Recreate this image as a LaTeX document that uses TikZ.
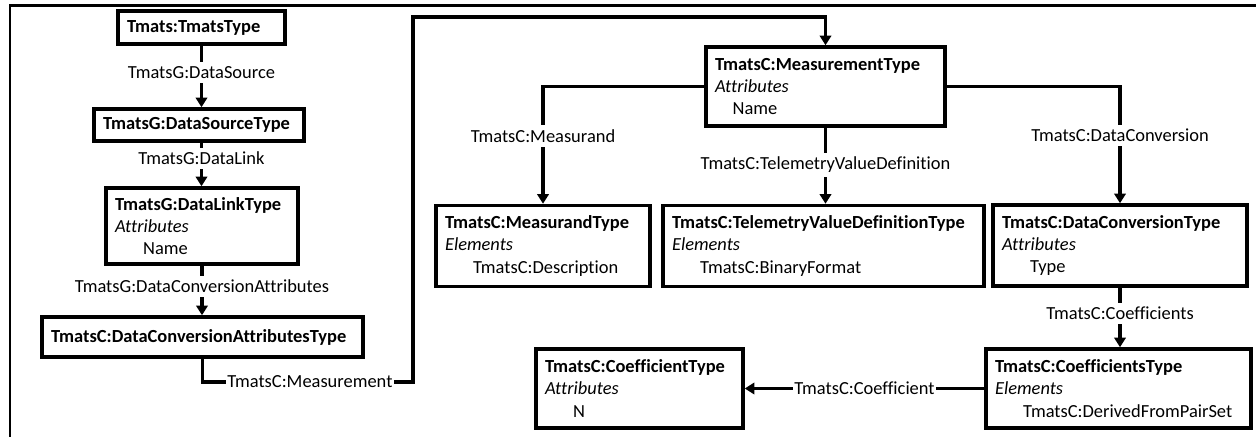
\documentclass[tikz,border=0pt]{standalone}
\usepackage{fontspec}
\setmainfont{Carlito}[Ligatures=NoCommon]
\usetikzlibrary{arrows.meta}

\tikzset{
  typebox/.style={draw, line width=2pt, inner xsep=0.18cm, inner ysep=0pt,
    align=left, font=\fontsize{10.5}{12.6}\selectfont},
  link/.style={line width=2pt, -{Triangle[length=5.5pt,width=6.5pt]}},
  linklabel/.style={fill=white, inner xsep=1pt, inner ysep=2.5pt,
    font=\fontsize{10.5}{12}\selectfont},
}
\newcommand*{\Indent}{\hspace*{16pt}}

\begin{document}
\begin{tikzpicture}[x=0.02cm,y=-0.02cm]
  \useasboundingbox (0,0) rectangle (1256,436);
  % frame
  \draw[line width=1.2pt] (10,440) -- (10,5.5) -- (1260,5.5);

  % left column
  \node[typebox, text width=2.98cm, minimum height=0.66cm] (tmats) at (201.5,27.5)
    {\textbf{Tmats:TmatsType}};
  \node[typebox, text width=3.84cm, minimum height=0.64cm] (datasource) at (199,125)
    {\textbf{TmatsG:DataSourceType}};
  \node[typebox, text width=3.48cm, minimum height=1.52cm] (datalink) at (202,226)
    {\textbf{TmatsG:DataLinkType}\\ \textit{Attributes}\\ \Indent Name};
  \node[typebox, text width=6.06cm, minimum height=0.8cm] (convattr) at (202.5,337)
    {\textbf{TmatsC:DataConversionAttributesType}};

  % measurement and children
  \node[typebox, text width=4.42cm, minimum height=1.58cm] (meas) at (825.5,86.5)
    {\textbf{TmatsC:MeasurementType}\\ \textit{Attributes}\\ \hspace*{10pt}Name};
  \node[typebox, text width=3.92cm, minimum height=1.62cm] (measurand) at (543,246)
    {\textbf{TmatsC:MeasurandType}\\ \textit{Elements}\\ \Indent TmatsC:Description};
  \node[typebox, text width=6.06cm, minimum height=1.62cm] (tvd) at (823.5,246)
    {\textbf{TmatsC:TelemetryValueDefinitionType}\\ \textit{Elements}\\ \Indent TmatsC:BinaryFormat};
  \node[typebox, text width=4.72cm, minimum height=1.62cm] (dataconv) at (1120,245.5)
    {\textbf{TmatsC:DataConversionType}\\ \textit{Attributes}\\ \Indent Type};
  \node[typebox, text width=4.94cm, minimum height=1.58cm] (coefs) at (1118.5,388.5)
    {\textbf{TmatsC:CoefficientsType}\\ \textit{Elements}\\ \Indent TmatsC:DerivedFromPairSet};
  \node[typebox, text width=3.78cm, minimum height=1.58cm] (coef) at (639.5,388.5)
    {\textbf{TmatsC:CoefficientType}\\ \textit{Attributes}\\ \Indent N};

  % connectors
  \draw[link] (tmats.south) -- node[linklabel, pos=0.43] {TmatsG:DataSource}
    (tmats.south |- datasource.north);
  \draw[link] (tmats.south |- datasource.south) -- node[linklabel, pos=0.36] {TmatsG:DataLink}
    (tmats.south |- datalink.north);
  \draw[link] (datalink.south) -- node[linklabel, pos=0.42] {TmatsG:DataConversionAttributes}
    (datalink.south |- convattr.north);

  \coordinate (mlow) at (413,382);
  \coordinate (mhigh) at (413,17);
  \draw[link] (convattr.south) |- node[linklabel, pos=0.755] {TmatsC:Measurement} (mlow)
    -- (mhigh) -| (meas.north);

  \draw[link] (meas.west) -| node[linklabel, pos=0.71] {TmatsC:Measurand} (measurand.north);
  \draw[link] (meas.south) -- node[linklabel, pos=0.49] {TmatsC:TelemetryValueDefinition}
    (meas.south |- tvd.north);
  \draw[link] (meas.east) -| node[linklabel, pos=0.71] {TmatsC:DataConversion} (dataconv.north);
  \draw[link] (dataconv.south) -- node[linklabel, pos=0.43] {TmatsC:Coefficients}
    (dataconv.south |- coefs.north);
  \draw[link] (coefs.west) -- node[linklabel] {TmatsC:Coefficient} (coefs.west -| coef.east);
\end{tikzpicture}
\end{document}
